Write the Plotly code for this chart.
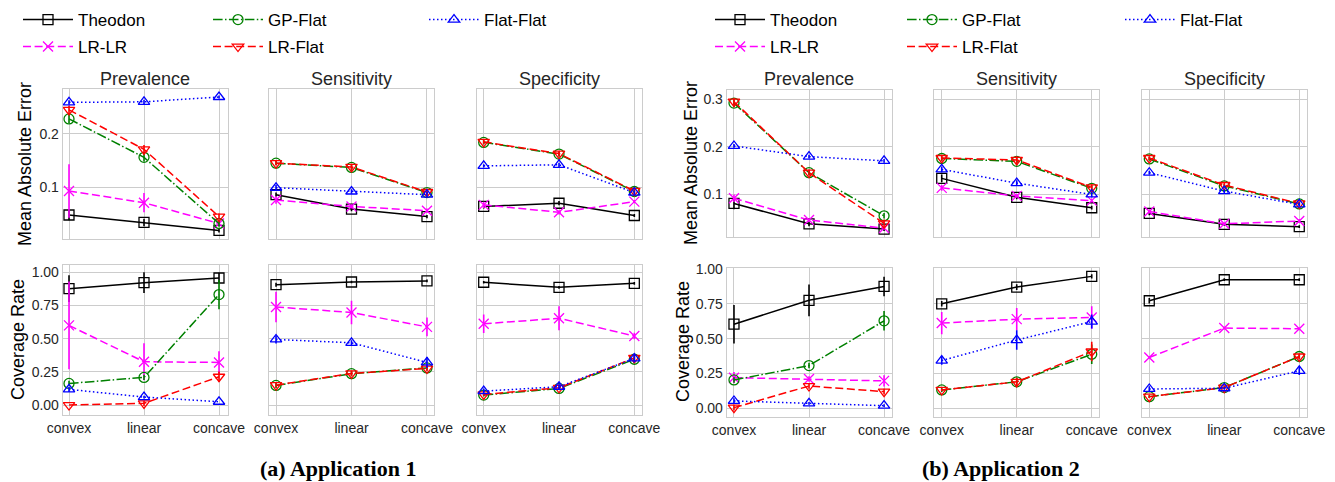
import plotly.graph_objects as go

W, H = 1335, 482

categories = ["convex", "linear", "concave"]
methods = ["Theodon", "LR-LR", "GP-Flat", "LR-Flat", "Flat-Flat"]
metrics = ["Prevalence", "Sensitivity", "Specificity"]
row_titles = ["Mean Absolute Error", "Coverage Rate"]
captions = ["(a) Application 1", "(b) Application 2"]

mae_ticks_app1 = [0.1, 0.2]
mae_ticks_app2 = [0.1, 0.2, 0.3]
cov_ticks = [0.0, 0.25, 0.5, 0.75, 1.0]
cov_ticklabels = ["0.00", "0.25", "0.50", "0.75", "1.00"]

# ---------------- Application 1 : Mean Absolute Error ----------------
a1_mae_prev = {"Theodon": [0.048, 0.034, 0.019], "LR-LR": [0.093, 0.071, 0.032],
               "GP-Flat": [0.228, 0.156, 0.032], "LR-Flat": [0.245, 0.171, 0.045],
               "Flat-Flat": [0.259, 0.260, 0.269]}
a1_mae_prev_err = {"Theodon": [0.010, 0.007, 0.004], "LR-LR": [0.050, 0.018, 0.004],
                   "GP-Flat": [0.008, 0.008, 0.006], "LR-Flat": [0.008, 0.008, 0.006],
                   "Flat-Flat": [0.004, 0.004, 0.003]}
a1_mae_sens = {"Theodon": [0.086, 0.059, 0.045], "LR-LR": [0.076, 0.064, 0.056],
               "GP-Flat": [0.145, 0.137, 0.090], "LR-Flat": [0.145, 0.138, 0.091],
               "Flat-Flat": [0.099, 0.092, 0.086]}
a1_mae_sens_err = {"Theodon": [0.004, 0.004, 0.003], "LR-LR": [0.007, 0.004, 0.004],
                   "GP-Flat": [0.004, 0.006, 0.004], "LR-Flat": [0.004, 0.006, 0.004],
                   "Flat-Flat": [0.005, 0.004, 0.005]}
a1_mae_spec = {"Theodon": [0.064, 0.070, 0.047], "LR-LR": [0.067, 0.053, 0.073],
               "GP-Flat": [0.184, 0.162, 0.092], "LR-Flat": [0.185, 0.163, 0.093],
               "Flat-Flat": [0.140, 0.142, 0.090]}
a1_mae_spec_err = {"Theodon": [0.004, 0.004, 0.003], "LR-LR": [0.006, 0.004, 0.003],
                   "GP-Flat": [0.004, 0.005, 0.004], "LR-Flat": [0.004, 0.005, 0.004],
                   "Flat-Flat": [0.003, 0.004, 0.004]}

# ---------------- Application 1 : Coverage Rate ----------------
a1_cov_prev = {"Theodon": [0.877, 0.922, 0.957], "LR-LR": [0.600, 0.326, 0.321],
               "GP-Flat": [0.163, 0.208, 0.832], "LR-Flat": [0.000, 0.013, 0.213],
               "Flat-Flat": [0.118, 0.060, 0.025]}
a1_cov_prev_err = {"Theodon": [0.100, 0.078, 0.040], "LR-LR": [0.330, 0.140, 0.085],
                   "GP-Flat": [0.020, 0.020, 0.110], "LR-Flat": [0.000, 0.020, 0.040],
                   "Flat-Flat": [0.020, 0.010, 0.000]}
a1_cov_sens = {"Theodon": [0.907, 0.927, 0.935], "LR-LR": [0.739, 0.697, 0.589],
               "GP-Flat": [0.148, 0.236, 0.280], "LR-Flat": [0.150, 0.238, 0.275],
               "Flat-Flat": [0.494, 0.469, 0.321]}
a1_cov_sens_err = {"Theodon": [0.015, 0.010, 0.010], "LR-LR": [0.115, 0.088, 0.070],
                   "GP-Flat": [0.020, 0.020, 0.020], "LR-Flat": [0.015, 0.020, 0.020],
                   "Flat-Flat": [0.030, 0.020, 0.040]}
a1_cov_spec = {"Theodon": [0.925, 0.887, 0.917], "LR-LR": [0.612, 0.654, 0.520],
               "GP-Flat": [0.075, 0.125, 0.345], "LR-Flat": [0.080, 0.130, 0.355],
               "Flat-Flat": [0.105, 0.138, 0.351]}
a1_cov_spec_err = {"Theodon": [0.010, 0.010, 0.010], "LR-LR": [0.070, 0.090, 0.025],
                   "GP-Flat": [0.010, 0.010, 0.030], "LR-Flat": [0.010, 0.010, 0.030],
                   "Flat-Flat": [0.020, 0.020, 0.030]}

# ---------------- Application 2 : Mean Absolute Error ----------------
a2_mae_prev = {"Theodon": [0.080, 0.037, 0.026], "LR-LR": [0.091, 0.045, 0.028],
               "GP-Flat": [0.292, 0.145, 0.054], "LR-Flat": [0.295, 0.145, 0.038],
               "Flat-Flat": [0.2015, 0.179, 0.170]}
a2_mae_prev_err = {"Theodon": [0.012, 0.005, 0.004], "LR-LR": [0.008, 0.004, 0.003],
                   "GP-Flat": [0.008, 0.006, 0.006], "LR-Flat": [0.008, 0.006, 0.008],
                   "Flat-Flat": [0.004, 0.004, 0.004]}
a2_mae_sens = {"Theodon": [0.133, 0.093, 0.071], "LR-LR": [0.113, 0.096, 0.086],
               "GP-Flat": [0.175, 0.169, 0.112], "LR-Flat": [0.176, 0.172, 0.114],
               "Flat-Flat": [0.152, 0.123, 0.099]}
a2_mae_sens_err = {"Theodon": [0.008, 0.004, 0.004], "LR-LR": [0.006, 0.004, 0.004],
                   "GP-Flat": [0.005, 0.008, 0.006], "LR-Flat": [0.006, 0.008, 0.006],
                   "Flat-Flat": [0.006, 0.006, 0.006]}
a2_mae_spec = {"Theodon": [0.059, 0.036, 0.031], "LR-LR": [0.063, 0.037, 0.043],
               "GP-Flat": [0.174, 0.117, 0.079], "LR-Flat": [0.176, 0.119, 0.080],
               "Flat-Flat": [0.145, 0.106, 0.078]}
a2_mae_spec_err = {"Theodon": [0.004, 0.003, 0.003], "LR-LR": [0.004, 0.003, 0.004],
                   "GP-Flat": [0.004, 0.004, 0.004], "LR-Flat": [0.004, 0.004, 0.004],
                   "Flat-Flat": [0.004, 0.004, 0.004]}

# ---------------- Application 2 : Coverage Rate ----------------
a2_cov_prev = {"Theodon": [0.604, 0.775, 0.875], "LR-LR": [0.220, 0.211, 0.197],
               "GP-Flat": [0.204, 0.307, 0.628], "LR-Flat": [0.005, 0.160, 0.120],
               "Flat-Flat": [0.053, 0.036, 0.019]}
a2_cov_prev_err = {"Theodon": [0.138, 0.114, 0.070], "LR-LR": [0.040, 0.020, 0.040],
                   "GP-Flat": [0.020, 0.020, 0.070], "LR-Flat": [0.020, 0.020, 0.020],
                   "Flat-Flat": [0.020, 0.010, 0.010]}
a2_cov_sens = {"Theodon": [0.750, 0.870, 0.947], "LR-LR": [0.612, 0.640, 0.652],
               "GP-Flat": [0.132, 0.190, 0.388], "LR-Flat": [0.132, 0.190, 0.408],
               "Flat-Flat": [0.343, 0.490, 0.623]}
a2_cov_sens_err = {"Theodon": [0.020, 0.020, 0.015], "LR-LR": [0.080, 0.080, 0.080],
                   "GP-Flat": [0.015, 0.030, 0.070], "LR-Flat": [0.010, 0.030, 0.070],
                   "Flat-Flat": [0.030, 0.070, 0.050]}
a2_cov_spec = {"Theodon": [0.772, 0.923, 0.923], "LR-LR": [0.365, 0.576, 0.571],
               "GP-Flat": [0.084, 0.149, 0.372], "LR-Flat": [0.084, 0.149, 0.372],
               "Flat-Flat": [0.139, 0.144, 0.269]}
a2_cov_spec_err = {"Theodon": [0.020, 0.010, 0.010], "LR-LR": [0.010, 0.010, 0.010],
                   "GP-Flat": [0.010, 0.010, 0.020], "LR-Flat": [0.010, 0.010, 0.020],
                   "Flat-Flat": [0.020, 0.010, 0.030]}

panels = {
    (0, 0): [(a1_mae_prev, a1_mae_prev_err), (a1_mae_sens, a1_mae_sens_err), (a1_mae_spec, a1_mae_spec_err)],
    (0, 1): [(a1_cov_prev, a1_cov_prev_err), (a1_cov_sens, a1_cov_sens_err), (a1_cov_spec, a1_cov_spec_err)],
    (1, 0): [(a2_mae_prev, a2_mae_prev_err), (a2_mae_sens, a2_mae_sens_err), (a2_mae_spec, a2_mae_spec_err)],
    (1, 1): [(a2_cov_prev, a2_cov_prev_err), (a2_cov_sens, a2_cov_sens_err), (a2_cov_spec, a2_cov_spec_err)],
}

# ---------------- styles ----------------
colors = {"Theodon": "#000000", "LR-LR": "#ff00ff", "GP-Flat": "#008000",
          "LR-Flat": "#ff0000", "Flat-Flat": "#0000ff"}
dashes = {"Theodon": "solid", "LR-LR": "8px,3.6px", "GP-Flat": "9.6px,2.4px,1.5px,2.4px",
          "LR-Flat": "8px,3.6px", "Flat-Flat": "1.5px,2.5px"}
symbols = {"Theodon": "square-open", "LR-LR": "x-thin-open", "GP-Flat": "circle-open",
           "LR-Flat": "triangle-down-open", "Flat-Flat": "triangle-up-open"}

# legend item positions (pixels: left x of item, centre y of row) per application
legend_px = [
    {"Theodon": (18, 20), "GP-Flat": (208, 20), "Flat-Flat": (424, 20),
     "LR-LR": (18, 47), "LR-Flat": (208, 47)},
    {"Theodon": (710, 20), "GP-Flat": (902, 20), "Flat-Flat": (1120, 20),
     "LR-LR": (710, 47), "LR-Flat": (902, 47)},
]

# pixel geometry of the frames
col_px = [[(62.7, 227.7), (269.3, 434.3), (476.7, 642.3)],
          [(726.7, 892.3), (934.0, 1099.3), (1141.7, 1307.3)]]
row_px = [[(89.0, 239.0), (265.0, 415.0)],
          [(90.0, 236.7), (268.3, 416.7)]]
x_ranges = [[(-0.084, 2.116), (-0.089, 2.097), (-0.093, 2.106)],
            [(-0.097, 2.11), (-0.103, 2.101), (-0.101, 2.107)]]
y_ranges = [[(0.003, 0.284), (-0.075, 1.055)],
            [(0.0098, 0.3197), (-0.06, 1.005)]]
mae_ticks = [mae_ticks_app1, mae_ticks_app2]

FONT = "Liberation Sans, Arial, sans-serif"
GRID = "#cccccc"
TXT = "#262626"

fig = go.Figure()
layout = {}
legend_ids = {}
li = 0
for a in range(2):
    for m in methods:
        li += 1
        key = "legend" if li == 1 else f"legend{li}"
        legend_ids[(a, m)] = key
        px, py = legend_px[a][m]
        layout[key] = dict(orientation="h", xanchor="left", yanchor="middle",
                           x=px / W, y=1 - py / H,
                           font=dict(size=17, color="#000000", family=FONT),
                           bgcolor="rgba(0,0,0,0)", itemwidth=50)

n = 0
for a in range(2):
    for r in range(2):
        for c in range(3):
            n += 1
            xa = "x" if n == 1 else f"x{n}"
            ya = "y" if n == 1 else f"y{n}"
            vals, errs = panels[(a, r)][c]
            for m in methods:
                show = (r == 0 and c == 0)
                fig.add_trace(go.Scatter(
                    x=[0, 1, 2], y=vals[m], xaxis=xa, yaxis=ya,
                    mode="lines+markers", name=m, showlegend=show, legend=legend_ids[(a, m)],
                    line=dict(color=colors[m], width=1.5, dash=dashes[m]),
                    marker=dict(symbol=symbols[m], size=10, color=colors[m],
                                line=dict(color=colors[m], width=1.3)),
                    error_y=dict(type="data", array=errs[m], visible=True,
                                 color=colors[m], thickness=1.6, width=0),
                    hoverinfo="skip"))
            x0, x1 = col_px[a][c]
            y0, y1 = row_px[a][r]
            xkey = "xaxis" if n == 1 else f"xaxis{n}"
            ykey = "yaxis" if n == 1 else f"yaxis{n}"
            layout[xkey] = dict(
                domain=[x0 / W, x1 / W], range=list(x_ranges[a][c]), anchor=ya,
                tickmode="array", tickvals=[0, 1, 2], ticktext=categories,
                showticklabels=(r == 1), showgrid=True, gridcolor=GRID, gridwidth=1,
                showline=True, mirror=True, linecolor=GRID, linewidth=1, automargin=False,
                zeroline=False, ticks="", tickfont=dict(size=14, color=TXT, family=FONT))
            if r == 0:
                tv, tt = mae_ticks[a], [f"{t:.1f}" for t in mae_ticks[a]]
            else:
                tv, tt = cov_ticks, cov_ticklabels
            layout[ykey] = dict(
                domain=[1 - y1 / H, 1 - y0 / H], range=list(y_ranges[a][r]), anchor=xa,
                tickmode="array", tickvals=tv, ticktext=tt,
                showticklabels=(c == 0), showgrid=True, gridcolor=GRID, gridwidth=1,
                showline=True, mirror=True, linecolor=GRID, linewidth=1, automargin=False,
                zeroline=False, ticks="", tickfont=dict(size=14, color=TXT, family=FONT))

annotations = []
# column titles (centered over the middle category)
title_cx = [[144.5, 351.8, 559.0], [809.5, 1016.7, 1224.3]]
for a in range(2):
    for c in range(3):
        annotations.append(dict(text=metrics[c], x=title_cx[a][c] / W, y=1 - 79 / H,
                                xref="paper", yref="paper", xanchor="center", yanchor="middle",
                                showarrow=False, font=dict(size=18, color=TXT, family=FONT)))
# row titles
ytitle_pos = [[(25, 164), (18, 340)], [(691, 163), (683, 342)]]
for a in range(2):
    for r in range(2):
        px, py = ytitle_pos[a][r]
        annotations.append(dict(text=row_titles[r], x=px / W, y=1 - py / H, textangle=-90,
                                xref="paper", yref="paper", xanchor="center", yanchor="middle",
                                showarrow=False, font=dict(size=18, color="#000000", family=FONT)))
# captions
cap_cx = [338, 1001]
for a in range(2):
    annotations.append(dict(text="<b>" + captions[a] + "</b>", x=cap_cx[a] / W, y=1 - 468 / H,
                            xref="paper", yref="paper", xanchor="center", yanchor="middle",
                            showarrow=False,
                            font=dict(size=22, color="#000000", family="Liberation Serif, serif")))

fig.update_layout(width=W, height=H, margin=dict(l=0, r=0, t=0, b=0, autoexpand=False),
                  paper_bgcolor="white", plot_bgcolor="white",
                  font=dict(family=FONT, color=TXT), annotations=annotations, **layout)

fig.write_html("out.html", config={"displayModeBar": False},
               post_script="document.body.style.margin='0px';document.body.style.padding='0px';")
